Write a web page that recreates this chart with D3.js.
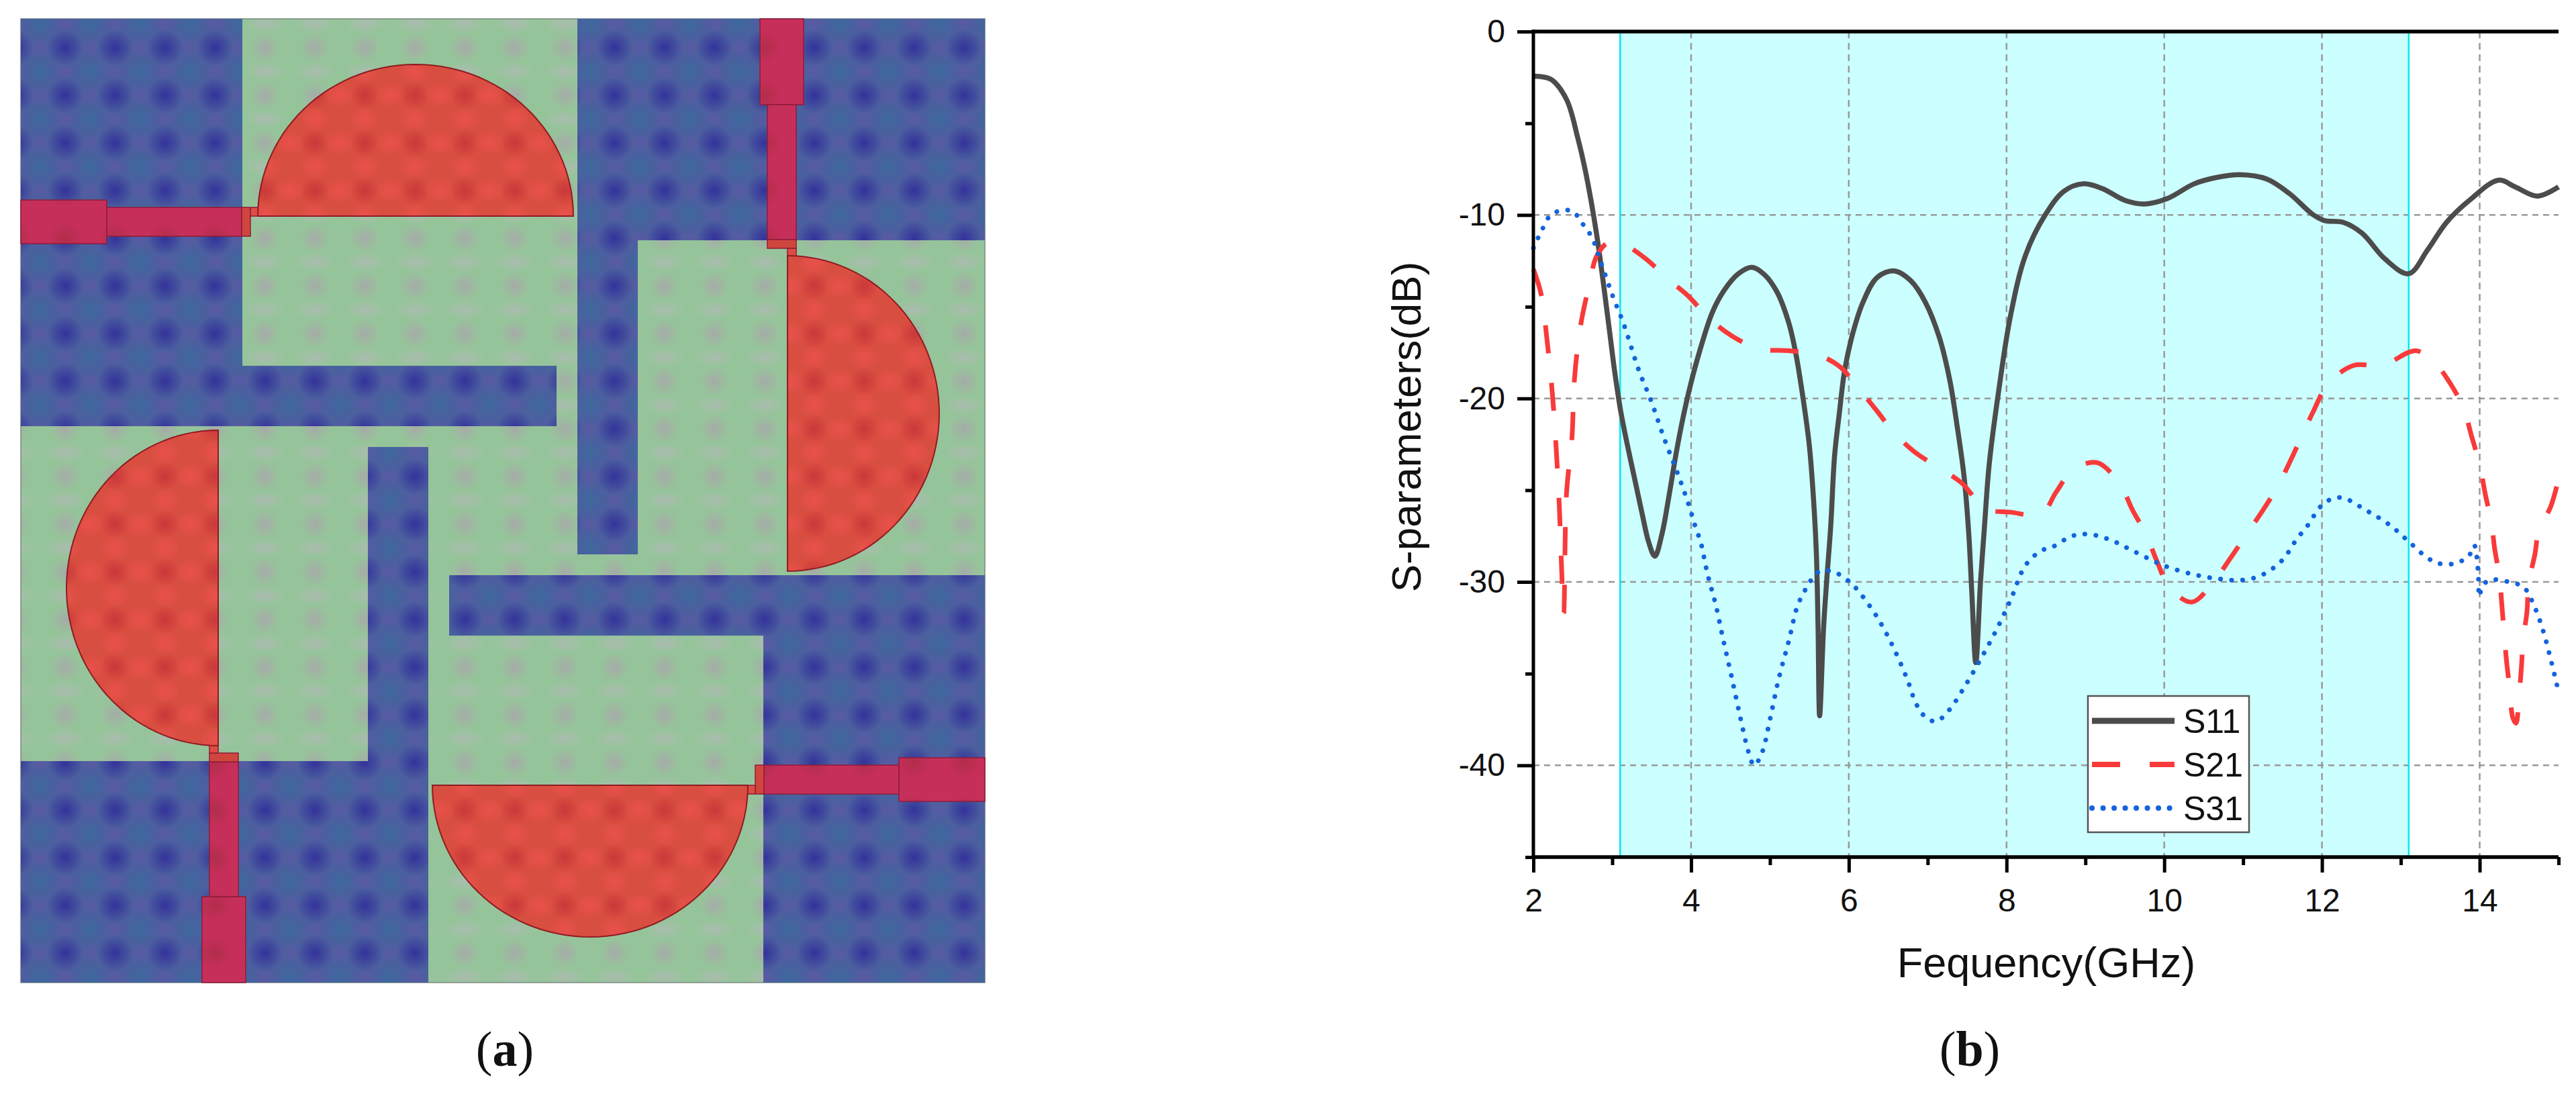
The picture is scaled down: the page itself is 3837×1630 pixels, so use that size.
<!DOCTYPE html>
<html>
<head>
<meta charset="utf-8">
<script src="https://cdn.jsdelivr.net/npm/d3@7"></script>
<style>
  body { margin: 0; background: #fff; }
  text { font-family: "Liberation Sans", Arial, sans-serif; fill: #111; }
</style>
</head>
<body>
<svg id="fig"></svg>
<script>
// panel (b) values: [GHz, dB]
const s11 = [[2,-2.43],[2.22,-2.6],[2.42,-3.7],[2.56,-5.75],[2.66,-7.6],[2.8,-11],[2.95,-15.8],[3.03,-18.5],[3.11,-20.76],[3.2,-22.7],[3.29,-24.5],[3.38,-26.3],[3.46,-27.8],[3.54,-28.6],
  [3.63,-27.4],[3.72,-25.3],[3.81,-23],[3.9,-21],[3.99,-19.3],[4.11,-17.4],[4.27,-15.3],[4.42,-14.1],[4.6,-13.2],[4.77,-12.85],[4.93,-13.25],[5.09,-14.2],[5.24,-15.9],[5.33,-17.6],[5.42,-20],[5.5,-22.6],
  [5.56,-26],[5.59,-28.6],[5.61,-32.5],[5.63,-37.3],[5.68,-32.5],[5.72,-29.9],[5.77,-27],[5.82,-23.1],[5.88,-20.8],[5.95,-18.4],[6.06,-16.3],[6.18,-14.75],[6.36,-13.4],[6.58,-13.05],[6.79,-13.6],
  [6.97,-14.75],[7.15,-16.7],[7.28,-19],[7.37,-21.4],[7.46,-24.2],[7.52,-27.3],[7.56,-30.6],[7.61,-34.4],[7.67,-30],[7.72,-27],[7.78,-23.6],[7.9,-19.6],[8.05,-15.5],[8.24,-12.2],[8.49,-10],[8.73,-8.7],
  [8.97,-8.3],[9.21,-8.55],[9.5,-9.2],[9.75,-9.4],[10.04,-9.1],[10.38,-8.3],[10.67,-7.95],[10.96,-7.8],[11.3,-8.04],[11.59,-8.84],[11.88,-9.96],[12.03,-10.3],[12.27,-10.4],[12.51,-11],[12.8,-12.4],[13.1,-13.2],
  [13.34,-11.9],[13.58,-10.4],[13.87,-9.2],[14.24,-8.1],[14.45,-8.47],[14.73,-8.97],[15,-8.47]]
const s21 = [[2,-12.95],[2.1,-14.35],[2.17,-16.7],[2.24,-19.7],[2.29,-22.8],[2.33,-26],[2.36,-29.5],[2.385,-31.7],[2.42,-25.2],[2.49,-22.1],[2.52,-19],
  [2.6,-16],[2.72,-13.6],[2.8,-12.26],[2.95,-11.5],[3.14,-11.6],[3.43,-12.4],[3.69,-13.44],[3.96,-14.4],[4.22,-15.6],[4.52,-16.6],[4.87,-17.3],[5.24,-17.4],
  [5.59,-17.6],[5.88,-18.25],[6.135,-19.5],[6.36,-20.7],[6.58,-21.9],[6.83,-22.9],[7.15,-23.8],[7.43,-24.6],[7.73,-26],[8.05,-26.2],[8.44,-26.3],[8.63,-25.1],
  [8.84,-23.9],[9.15,-23.5],[9.44,-24.7],[9.6,-26.1],[9.78,-27.5],[9.9,-28.8],[10.07,-30.3],[10.35,-31.1],[10.64,-29.9],[10.84,-28.7],[11.06,-27.3],[11.25,-26.1],
  [11.45,-24.7],[11.6,-23.4],[11.76,-21.9],[11.88,-20.8],[12.08,-19.2],[12.4,-18.2],[12.77,-18.2],[13.09,-17.5],[13.2,-17.4],[13.39,-17.85],[13.63,-19.2],
  [13.8,-20.6],[13.9,-22.1],[14,-23.6],[14.07,-25.2],[14.15,-26.8],[14.19,-28.2],[14.25,-29.7],[14.28,-31.2],[14.31,-32.8],[14.34,-34.3],[14.38,-35.8],[14.42,-37.4],
  [14.46,-37.7],[14.5,-36.2],[14.53,-34.6],[14.55,-33.2],[14.6,-31.6],[14.62,-30.1],[14.7,-28.5],[14.75,-27.2],[14.9,-25.9],[15,-24.4]]
const s31 = [[2,-11.8],[2.1,-10.9],[2.22,-10],[2.37,-9.75],[2.5,-9.8],[2.61,-10.4],[2.74,-11.2],[2.85,-12.5],[3,-14.35],[3.15,-16],[3.34,-18.5],[3.49,-20.1],[3.66,-22.2],
  [3.83,-24.1],[3.97,-25.8],[4.07,-27.2],[4.12,-27.8],[4.21,-29.6],[4.31,-31.2],[4.41,-33.2],[4.52,-35.3],[4.63,-37.5],[4.73,-39.3],[4.8,-40],[4.9,-39.3],[5,-37.5],[5.11,-35.3],
  [5.24,-33.2],[5.35,-31.3],[5.48,-30.2],[5.6,-29.5],[5.77,-29.4],[6.01,-30],[6.28,-31.4],[6.45,-32.6],[6.59,-33.8],[6.74,-35.3],[6.86,-36.7],[6.98,-37.4],[7.11,-37.6],[7.27,-37],
  [7.47,-35.7],[7.66,-34.3],[7.85,-32.8],[8.05,-31],[8.24,-29.1],[8.44,-28.3],[8.58,-28.1],[8.83,-27.5],[9.04,-27.4],[9.31,-27.7],[9.6,-28.3],[9.99,-29.1],[10.38,-29.6],[10.72,-29.85],
  [11,-29.9],[11.25,-29.6],[11.5,-28.8],[11.69,-27.6],[11.79,-27.1],[12.03,-25.7],[12.24,-25.4],[12.56,-26.1],[12.86,-26.9],[13.1,-27.8],[13.34,-28.7],[13.49,-29],[13.68,-29],[13.86,-28.6],
  [13.93,-28],[13.98,-29.4],[13.995,-30.8],[14.03,-30.3],[14.12,-29.9],[14.37,-30],[14.56,-30.3],[14.7,-31.4],[14.8,-32.6],[14.9,-34.2],[15,-36]]

const seriesNames = ['S11', 'S21', 'S31']
const xMajor = [2, 4, 6, 8, 10, 12, 14]
const xMinor = [3, 5, 7, 9, 11, 13, 15]
const yMajor = [0, -10, -20, -30, -40]
const yMinor = [-5, -15, -25, -35, -45]
const xGrid = [4, 6, 8, 10, 12, 14]
const yGrid = [-10, -20, -30, -40]
const band = [3.1, 13.1]

// panel (a) outline, one quarter in board pixels, the others are rotations of it
const boardSize = 1436
const rotations = [0, 1, 2, 3]
const slotShape = [[0,0],[330,0],[330,517],[798,517],[798,607],[0,607]]
const feedWide = [0, 270, 128, 335]
const feedNarrow = [128, 281, 329, 324]
const feedStep = [329, 281, 342, 324]
const feedLink = [342, 281, 356, 294]
const patch = { cx: 588, cy: 294, rx: 235, ry: 226 }

const W = 3837, H = 1630
const svg = d3.select('#fig').attr('width', W).attr('height', H)
svg.append('rect').attr('width', W).attr('height', H).attr('fill', '#fff')
const defs = svg.append('defs')

// ---------- panel (a) ----------
const boardX = 31, boardY = 28
const bx = d3.scaleLinear().domain([0, boardSize]).range([boardX, boardX + boardSize])
const by = d3.scaleLinear().domain([0, boardSize]).range([boardY, boardY + boardSize])

function spot(id, color, alpha) {
  const g = defs.append('radialGradient').attr('id', id)
  g.append('stop').attr('offset', '0%').attr('stop-color', color).attr('stop-opacity', alpha)
  g.append('stop').attr('offset', '100%').attr('stop-color', color).attr('stop-opacity', 0)
}
function texture(id, base, spots) {
  const tw = 74.4, th = 71
  const p = defs.append('pattern').attr('id', id)
    .attr('patternUnits', 'userSpaceOnUse')
    .attr('x', 97 - tw / 2).attr('y', 71 - th / 2)
    .attr('width', tw).attr('height', th)
  p.append('rect').attr('width', tw).attr('height', th).attr('fill', base)
  spots.forEach(s => {
    spot(id + s.name, s.color, s.alpha)
    s.at.forEach(a => {
      p.append('ellipse')
        .attr('cx', a[0] * tw).attr('cy', a[1] * th)
        .attr('rx', s.rx).attr('ry', s.ry)
        .attr('fill', `url(#${id + s.name})`)
    })
  })
}
texture('texGreen', '#96c49a', [
  { name: 'a', color: '#aba3ad', alpha: .75, rx: 22, ry: 22, at: [[.5, .5]] },
  { name: 'b', color: '#b0bab6', alpha: .8, rx: 30, ry: 14, at: [[.5, 0], [.5, 1]] }
])
texture('texBlue', '#4c5f9f', [
  { name: 'a', color: '#32309a', alpha: .95, rx: 27, ry: 27, at: [[.5, .5]] },
  { name: 'b', color: '#3a6b9e', alpha: .8, rx: 24, ry: 24, at: [[0, 0], [1, 0], [0, 1], [1, 1]] },
  { name: 'c', color: '#6058a6', alpha: .7, rx: 18, ry: 14, at: [[.5, 0], [.5, 1], [0, .5], [1, .5]] }
])
texture('texRed', '#d84e40', [
  { name: 'a', color: '#c63038', alpha: .75, rx: 22, ry: 22, at: [[.5, .5]] },
  { name: 'b', color: '#f25252', alpha: .7, rx: 24, ry: 20, at: [[.5, 0], [.5, 1], [0, .5], [1, .5]] }
])
texture('texFeed', '#c72f5b', [
  { name: 'a', color: '#a92c44', alpha: .7, rx: 26, ry: 26, at: [[.5, .5]] }
])

function turn(p, k) {
  let [x, y] = p
  for (let i = 0; i < k; i++) [x, y] = [boardSize - y, x]
  return [bx(x), by(y)]
}
const outline = d3.line().curve(d3.curveLinearClosed)
const rectPts = r => [[r[0], r[1]], [r[2], r[1]], [r[2], r[3]], [r[0], r[3]]]
const patchPts = d3.range(0, 61).map(i => {
  const a = Math.PI * i / 60
  return [patch.cx - patch.rx * Math.cos(a), patch.cy - patch.ry * Math.sin(a)]
})

const board = svg.append('g')
board.append('rect')
  .attr('x', bx(0)).attr('y', by(0))
  .attr('width', boardSize).attr('height', boardSize)
  .attr('fill', 'url(#texGreen)')
  .attr('stroke', '#7b8a80').attr('stroke-width', 1.5)

board.selectAll('path.slot').data(rotations).enter().append('path').attr('class', 'slot')
  .attr('d', k => outline(slotShape.map(p => turn(p, k))))
  .attr('fill', 'url(#texBlue)')

rotations.forEach(k => {
  [[feedWide, 'url(#texFeed)'], [feedNarrow, 'url(#texFeed)'], [feedStep, '#d0463f'], [feedLink, '#df4c46']].forEach(f => {
    board.append('path')
      .attr('d', outline(rectPts(f[0]).map(p => turn(p, k))))
      .attr('fill', f[1])
      .attr('stroke', '#8e1c36').attr('stroke-width', 1.5)
  })
})

board.selectAll('path.patch').data(rotations).enter().append('path').attr('class', 'patch')
  .attr('d', k => outline(patchPts.map(p => turn(p, k))))
  .attr('fill', 'url(#texRed)')
  .attr('stroke', '#8e1c22').attr('stroke-width', 2)

// ---------- panel (b) ----------
const left = 2284, right = 3811, top_ = 47, bottom = 1277
const x = d3.scaleLinear().domain([2, 15]).range([left, right])
const y = d3.scaleLinear().domain([0, -45]).range([top_, bottom])
const chart = svg.append('g')

chart.append('rect')
  .attr('x', x(band[0])).attr('y', top_)
  .attr('width', x(band[1]) - x(band[0])).attr('height', bottom - top_)
  .attr('fill', '#ccffff')

chart.selectAll('line.gx').data(xGrid).enter().append('line').attr('class', 'gx')
  .attr('x1', d => x(d)).attr('x2', d => x(d))
  .attr('y1', top_).attr('y2', bottom)
  .attr('stroke', '#999').attr('stroke-width', 2.5).attr('stroke-dasharray', '10 7')
chart.selectAll('line.gy').data(yGrid).enter().append('line').attr('class', 'gy')
  .attr('x1', left).attr('x2', right)
  .attr('y1', d => y(d)).attr('y2', d => y(d))
  .attr('stroke', '#999').attr('stroke-width', 2.5).attr('stroke-dasharray', '9 7')
chart.selectAll('line.edge').data(band).enter().append('line').attr('class', 'edge')
  .attr('x1', d => x(d)).attr('x2', d => x(d))
  .attr('y1', top_).attr('y2', bottom)
  .attr('stroke', '#00eaf0').attr('stroke-width', 2.5)

const line = d3.line().x(d => x(d[0])).y(d => y(d[1])).curve(d3.curveCatmullRom.alpha(0.5))
const looks = [
  { color: '#4c4c4c', width: 7.5, dash: null, cap: 'butt' },
  { color: '#f93a3a', width: 7, dash: '42 44', cap: 'butt' },
  { color: '#1463dc', width: 7, dash: '0.1 16.4', cap: 'round' }
]
;[s11, s21, s31].forEach((s, i) => {
  chart.append('path')
    .attr('d', line(s))
    .attr('fill', 'none')
    .attr('stroke', looks[i].color)
    .attr('stroke-width', looks[i].width)
    .attr('stroke-linecap', looks[i].cap)
    .attr('stroke-dasharray', looks[i].dash)
})

// axes
function axisStyle(g) {
  g.select('.domain').remove()
  g.selectAll('line').attr('stroke', '#000').attr('stroke-width', 5)
}
chart.append('g').attr('transform', `translate(0,${bottom})`)
  .call(d3.axisBottom(x).tickValues(xMinor).tickSize(12).tickFormat(''))
  .call(axisStyle)
chart.append('g').attr('transform', `translate(0,${bottom})`)
  .call(d3.axisBottom(x).tickValues(xMajor).tickSize(23).tickPadding(24))
  .call(axisStyle)
  .selectAll('text').attr('font-size', 48)
chart.append('g').attr('transform', `translate(${left},0)`)
  .call(d3.axisLeft(y).tickValues(yMinor).tickSize(12).tickFormat(''))
  .call(axisStyle)
chart.append('g').attr('transform', `translate(${left},0)`)
  .call(d3.axisLeft(y).tickValues(yMajor).tickSize(24).tickPadding(18).tickFormat(d => d))
  .call(axisStyle)
  .selectAll('text').attr('font-size', 48)

chart.append('line').attr('x1', left).attr('x2', left).attr('y1', top_ - 3).attr('y2', bottom + 3)
  .attr('stroke', '#000').attr('stroke-width', 5)
;[top_, bottom].forEach(v => {
  chart.append('line').attr('x1', left - 2).attr('x2', right).attr('y1', v).attr('y2', v)
    .attr('stroke', '#000').attr('stroke-width', 5.5)
})

chart.append('text')
  .attr('transform', `translate(2116,636) rotate(-90)`)
  .attr('text-anchor', 'middle').attr('font-size', 62)
  .text('S-parameters(dB)')
chart.append('text')
  .attr('x', 3048).attr('y', 1456)
  .attr('text-anchor', 'middle').attr('font-size', 63)
  .text('Fequency(GHz)')

// legend
const legend = chart.append('g')
legend.append('rect')
  .attr('x', 3110).attr('y', 1037).attr('width', 240).attr('height', 203)
  .attr('fill', '#fff').attr('stroke', '#555').attr('stroke-width', 2.5)
seriesNames.forEach((name, i) => {
  const rowY = 1074 + i * 65
  legend.append('line')
    .attr('x1', 3116).attr('x2', 3239).attr('y1', rowY).attr('y2', rowY)
    .attr('stroke', looks[i].color)
    .attr('stroke-width', i === 0 ? 9 : 8)
    .attr('stroke-linecap', looks[i].cap)
    .attr('stroke-dasharray', looks[i].dash)
  legend.append('text')
    .attr('x', 3252).attr('y', rowY + 18)
    .attr('font-size', 50)
    .text(name)
})

// panel letters
function panelLabel(cx, letter) {
  const t = svg.append('text')
    .attr('x', cx).attr('y', 1588)
    .attr('text-anchor', 'middle').attr('font-size', 74)
    .style('font-family', '"Liberation Serif", serif')
  t.append('tspan').text('(')
  t.append('tspan').attr('font-weight', 'bold').text(letter)
  t.append('tspan').text(')')
}
panelLabel(752, 'a')
panelLabel(2934, 'b')
</script>
</body>
</html>
